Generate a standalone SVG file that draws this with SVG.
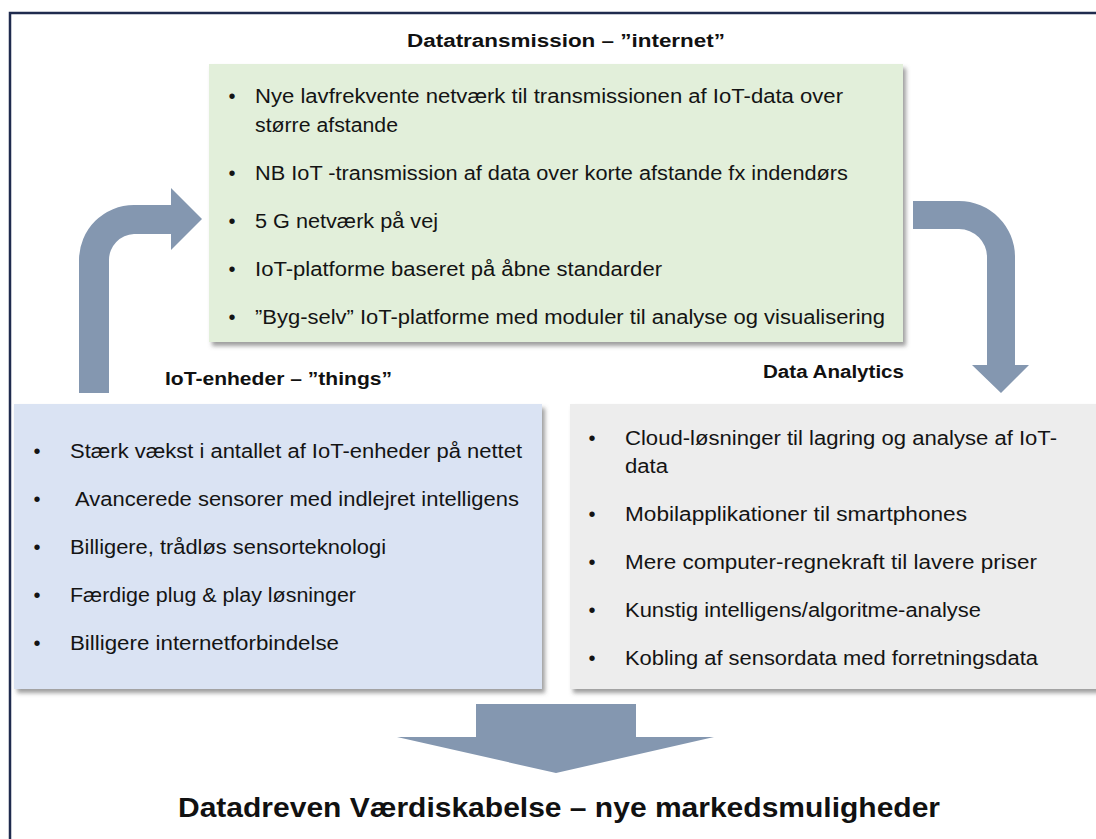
<svg xmlns="http://www.w3.org/2000/svg" width="1096" height="839" viewBox="0 0 1096 839">
  <style>
    .body { font-family: "Liberation Sans", Arial, sans-serif; font-size: 20px; fill: #141414; }
    .bul { font-family: "Liberation Sans", Arial, sans-serif; font-size: 20px; fill: #141414; text-anchor: middle; }
    .head { font-family: "Liberation Sans", Arial, sans-serif; font-size: 18px; font-weight: bold; fill: #111; }
    .big { font-family: "Liberation Sans", Arial, sans-serif; font-size: 27px; font-weight: bold; fill: #111; }
    .arrow { fill: #8497B0; }
  </style>
  <defs>
    <filter id="shadow" x="-5%" y="-5%" width="115%" height="120%">
      <feDropShadow dx="3" dy="4" stdDeviation="2" flood-color="#6b6b6b" flood-opacity="0.65"/>
    </filter>
  </defs>

  <rect x="0" y="0" width="1096" height="839" fill="#ffffff"/>
  <!-- frame -->
  <rect x="10" y="13" width="1100" height="840" fill="none" stroke="#1F2B4E" stroke-width="2.5"/>

  <!-- connectors -->
  <g id="connectors">
    <path class="arrow" d="M79,393 L79,260 A55,55 0 0 1 134,205 L171,205 L171,188 L202,219 L171,250 L171,234 L134,234 A26,26 0 0 0 109,260 L109,393 Z"/>
    <path class="arrow" d="M913,201 L959,201 A56,56 0 0 1 1015,257 L1015,365 L1029,365 L1001,393 L972,365 L987,365 L987,257 A28,28 0 0 0 959,229 L913,229 Z"/>
    <path class="arrow" d="M476,704 L636,704 L636,737 L714,737 L556,773 L397,737 L476,737 Z"/>
  </g>

  <!-- transmission -->
  <g id="node-transmission">
    <text class="head" x="407" y="47" textLength="318" lengthAdjust="spacingAndGlyphs">Datatransmission – ”internet”</text>
    <rect x="209" y="64" width="694" height="278" fill="#E2EFDA" filter="url(#shadow)"/>
    <text class="bul" x="232" y="103">•</text>
    <text class="body" x="255" y="103" textLength="588" lengthAdjust="spacingAndGlyphs">Nye lavfrekvente  netværk til transmissionen af IoT-data over</text>
    <text class="body" x="255" y="132" textLength="143" lengthAdjust="spacingAndGlyphs">større afstande</text>
    <text class="bul" x="232" y="180">•</text>
    <text class="body" x="255" y="180" textLength="593" lengthAdjust="spacingAndGlyphs">NB IoT -transmission af data over korte afstande fx indendørs</text>
    <text class="bul" x="232" y="228">•</text>
    <text class="body" x="255" y="228" textLength="183" lengthAdjust="spacingAndGlyphs">5 G netværk på vej</text>
    <text class="bul" x="232" y="276">•</text>
    <text class="body" x="255" y="276" textLength="407" lengthAdjust="spacingAndGlyphs">IoT-platforme baseret på åbne standarder</text>
    <text class="bul" x="232" y="324">•</text>
    <text class="body" x="255" y="324" textLength="630" lengthAdjust="spacingAndGlyphs">”Byg-selv” IoT-platforme med moduler til analyse og visualisering</text>
  </g>

  <!-- things -->
  <g id="node-things">
    <text class="head" x="165" y="385" textLength="227" lengthAdjust="spacingAndGlyphs">IoT-enheder – ”things”</text>
    <rect x="14" y="404" width="528" height="285" fill="#DAE3F3" filter="url(#shadow)"/>
    <text class="bul" x="37" y="458">•</text>
    <text class="body" x="70" y="458" textLength="452" lengthAdjust="spacingAndGlyphs">Stærk vækst i antallet af IoT-enheder på nettet</text>
    <text class="bul" x="37" y="506">•</text>
    <text class="body" x="75" y="506" textLength="444" lengthAdjust="spacingAndGlyphs">Avancerede sensorer med indlejret intelligens</text>
    <text class="bul" x="37" y="554">•</text>
    <text class="body" x="70" y="554" textLength="316" lengthAdjust="spacingAndGlyphs">Billigere, trådløs sensorteknologi</text>
    <text class="bul" x="37" y="602">•</text>
    <text class="body" x="70" y="602" textLength="286" lengthAdjust="spacingAndGlyphs">Færdige plug &amp; play løsninger</text>
    <text class="bul" x="37" y="650">•</text>
    <text class="body" x="70" y="650" textLength="269" lengthAdjust="spacingAndGlyphs">Billigere internetforbindelse</text>
  </g>

  <!-- analytics -->
  <g id="node-analytics">
    <text class="head" x="763" y="378" textLength="141" lengthAdjust="spacingAndGlyphs">Data Analytics</text>
    <rect x="570" y="404" width="540" height="285" fill="#EDEDED" filter="url(#shadow)"/>
    <text class="bul" x="592" y="445">•</text>
    <text class="body" x="625" y="445" textLength="432" lengthAdjust="spacingAndGlyphs">Cloud-løsninger til lagring og analyse af IoT-</text>
    <text class="body" x="625" y="473" textLength="43" lengthAdjust="spacingAndGlyphs">data</text>
    <text class="bul" x="592" y="521">•</text>
    <text class="body" x="625" y="521" textLength="342" lengthAdjust="spacingAndGlyphs">Mobilapplikationer til smartphones</text>
    <text class="bul" x="592" y="569">•</text>
    <text class="body" x="625" y="569" textLength="412" lengthAdjust="spacingAndGlyphs">Mere computer-regnekraft til lavere priser</text>
    <text class="bul" x="592" y="617">•</text>
    <text class="body" x="625" y="617" textLength="356" lengthAdjust="spacingAndGlyphs">Kunstig intelligens/algoritme-analyse</text>
    <text class="bul" x="592" y="665">•</text>
    <text class="body" x="625" y="665" textLength="413" lengthAdjust="spacingAndGlyphs">Kobling af sensordata med forretningsdata</text>
  </g>

  <!-- result -->
  <g id="node-value">
    <text class="big" x="178" y="817" textLength="762" lengthAdjust="spacingAndGlyphs">Datadreven Værdiskabelse – nye markedsmuligheder</text>
  </g>
</svg>
